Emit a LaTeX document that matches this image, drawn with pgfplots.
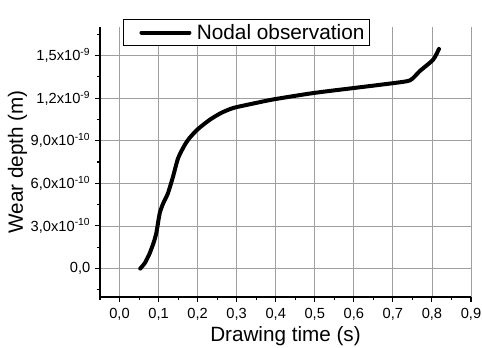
\documentclass[border=0pt]{standalone}
\usepackage{fontspec}
\setmainfont{Liberation Sans}
\usepackage{pgfplots}
\pgfplotsset{compat=1.18}
\begin{document}
\begin{tikzpicture}[x=0.75pt,y=0.75pt]
\useasboundingbox (-100,-50) rectangle (382,297);
\begin{axis}[
  at={(0,0)}, anchor=south west,
  scale only axis,
  width=278.25pt, height=202.5pt,
  xmin=-0.05, xmax=0.9,
  ymin=-2e-10, ymax=1.7e-9,
  axis x line*=bottom, axis y line*=left,
  axis line style={line width=0.9pt, -},
  tick align=outside,
  major tick length=3.75pt, minor tick length=2.25pt,
  tick style={line width=0.8pt, black},
  xtick={0,0.1,0.2,0.3,0.4,0.5,0.6,0.7,0.8,0.9},
  xticklabels={{0,0},{0,1},{0,2},{0,3},{0,4},{0,5},{0,6},{0,7},{0,8},{0,9}},
  minor xtick={-0.05,0.05,0.15,0.25,0.35,0.45,0.55,0.65,0.75,0.85},
  ytick={0,3e-10,6e-10,9e-10,1.2e-9,1.5e-9},
  yticklabels={{0,0},{3,0x10\textsuperscript{-10}},{6,0x10\textsuperscript{-10}},{9,0x10\textsuperscript{-10}},{1,2x10\textsuperscript{-9}},{1,5x10\textsuperscript{-9}}},
  minor ytick={-1.5e-10,1.5e-10,4.5e-10,7.5e-10,1.05e-9,1.35e-9,1.65e-9},
  scaled y ticks=false,
  tick label style={font=\fontsize{11}{13}\selectfont},
  xticklabel style={yshift=-1pt},
  grid=major,
  major grid style={gray!75, line width=0.6pt},
  xlabel={Drawing time (s)},
  ylabel={Wear depth (m)},
  label style={font=\fontsize{15.5}{18}\selectfont},
  xlabel style={yshift=2pt},
  ylabel style={yshift=-4.2pt},
  legend style={at={(axis description cs:0.062,1.0296)}, anchor=north west,
    draw=black, line width=0.6pt, font=\fontsize{15.6}{18}\selectfont,
    inner sep=1.5pt, legend cell align=left},
  legend image code/.code={\draw[white, line width=0.1pt] (0pt,0pt) -- (12pt,0pt);\draw[black, line width=3pt] (12pt,0pt) -- (48pt,0pt);},
  clip=false,
]
\addplot[black, line width=3pt, line join=round, line cap=round, smooth, tension=0.4] coordinates {
(0.053,0)
(0.065,0.4e-10)
(0.077,1.06e-10)
(0.087,1.8e-10)
(0.094,2.47e-10)
(0.103,3.9e-10)
(0.112,4.6e-10)
(0.124,5.3e-10)
(0.137,6.47e-10)
(0.150,7.77e-10)
(0.167,8.7e-10)
(0.179,9.18e-10)
(0.200,9.8e-10)
(0.231,1.047e-9)
(0.260,1.095e-9)
(0.291,1.13e-9)
(0.340,1.16e-9)
(0.393,1.19e-9)
(0.483,1.23e-9)
(0.538,1.25e-9)
(0.598,1.27e-9)
(0.701,1.305e-9)
(0.744,1.325e-9)
(0.769,1.39e-9)
(0.803,1.47e-9)
(0.818,1.546e-9)
};
\addlegendentry{\hspace{2pt}Nodal observation\hspace{9pt}}
\end{axis}
\end{tikzpicture}
\end{document}
